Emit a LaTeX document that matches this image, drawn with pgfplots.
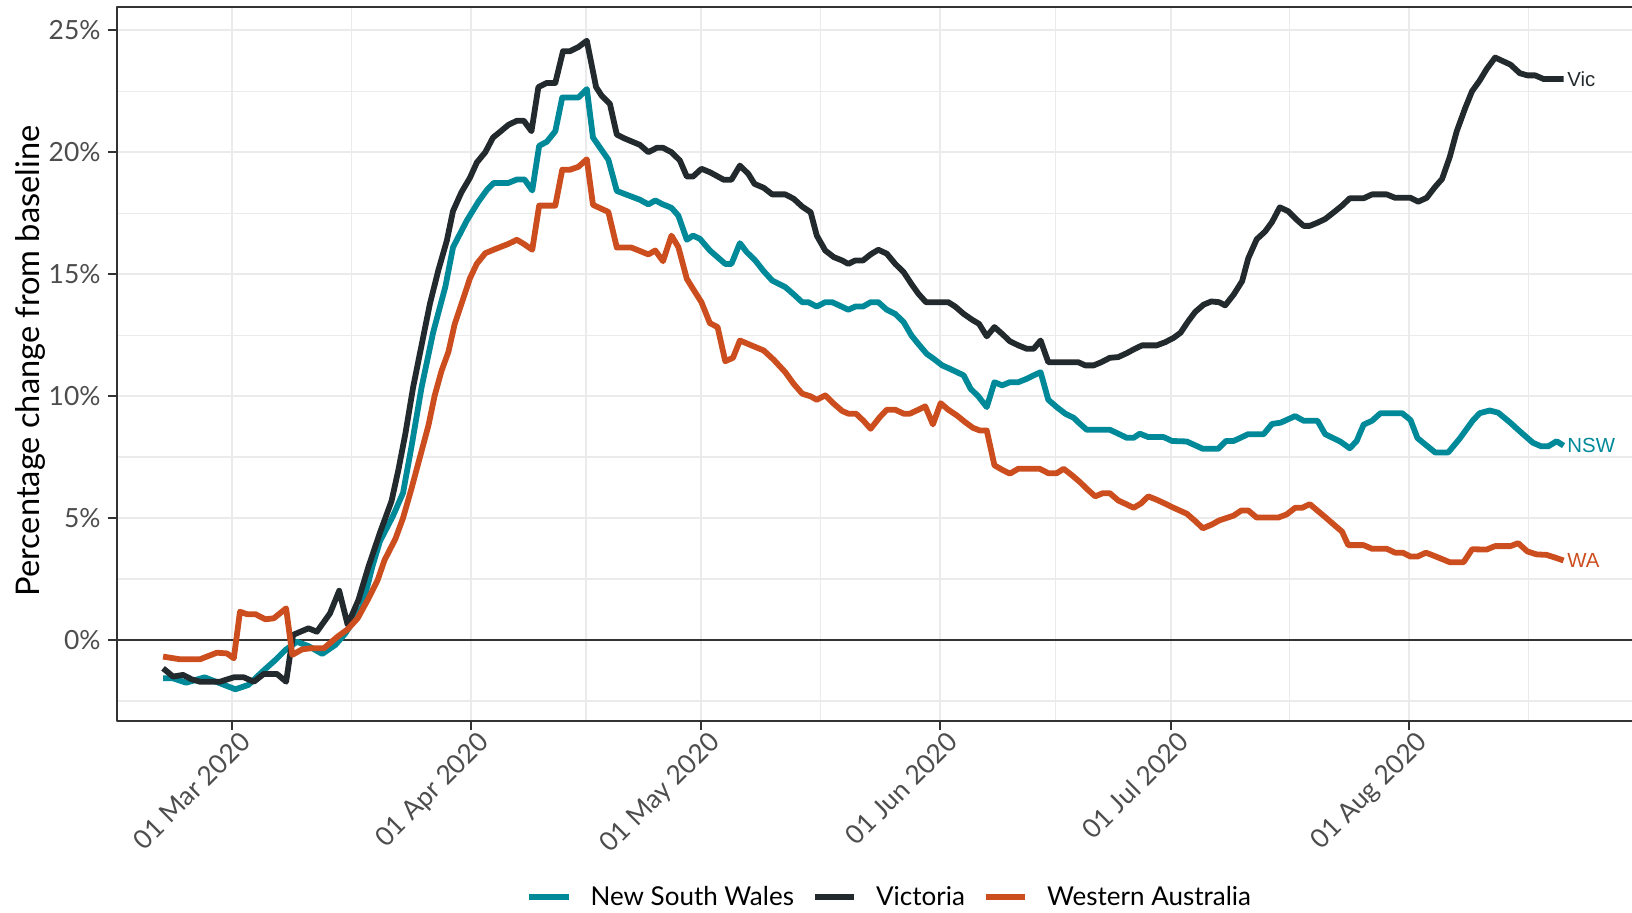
\documentclass[border=0pt]{standalone}
\usepackage{fontspec}
\setmainfont{Lato}
\newfontfamily\labfont{Liberation Sans}
\usepackage{pgfplots}
\pgfplotsset{compat=1.18}
\definecolor{nswcol}{RGB}{0,137,153}
\definecolor{viccol}{RGB}{35,42,46}
\definecolor{wacol}{RGB}{204,78,30}
\definecolor{gridcol}{RGB}{235,235,235}
\definecolor{axiscol}{RGB}{51,51,51}
\definecolor{tickcol}{RGB}{77,77,77}
\begin{document}
\begin{tikzpicture}
\useasboundingbox (0,0) rectangle (816pt,456.5pt);
\begin{axis}[
  at={(58.35pt,96pt)}, anchor=south west,
  scale only axis, width=757.65pt, height=357.2pt,
  xmin=-15.03, xmax=182.0, ymin=-3.32, ymax=25.97,
  clip=false,
  xtick={0,31,61,92,122,153},
  xticklabels={01 Mar 2020,01 Apr 2020,01 May 2020,01 Jun 2020,01 Jul 2020,01 Aug 2020},
  minor xtick={15.5,46,76.5,107,137.5,168.5},
  ytick={0,5,10,15,20,25},
  yticklabels={0\%,5\%,10\%,15\%,20\%,25\%},
  minor ytick={-2.5,2.5,7.5,12.5,17.5,22.5},
  grid=both,
  major grid style={gridcol, line width=1pt},
  minor grid style={gridcol, line width=0.6pt},
  tick pos=left, tick align=outside,
  major tick length=4.3pt, minor tick length=0pt,
  major tick style={axiscol, line width=1pt},
  axis line style={draw=none},
  ticklabel style={font=\fontsize{13.2}{15}\selectfont, text=tickcol},
  xticklabel style={rotate=45, anchor=north east, inner sep=0pt, xshift=2.2pt, yshift=-2.2pt},
  yticklabel style={anchor=east, inner sep=0pt, xshift=-3.6pt},
  ylabel={Percentage change from baseline},
  every axis y label/.style={at={(rel axis cs:0,0.504)}, anchor=center, rotate=90, yshift=43.2pt, font=\fontsize{16.3}{19}\selectfont},
  legend style={draw=none, fill=none, at={(0.5108,-0.2464)}, anchor=center,
    legend columns=3, font=\fontsize{13.0}{15}\selectfont,
    /tikz/every odd column/.append style={column sep=7.5pt},
    /tikz/every even column/.append style={column sep=7pt},
    nodes={inner sep=2pt}},
  legend image code/.code={\draw[#1, line width=3pt] (0pt,0pt) -- (19.6pt,0pt);},
  line join=round,
]
\addplot[axiscol, line width=1pt, forget plot] coordinates {(-15.03,0) (182,0)};

\addplot[nswcol, line width=2.9pt] coordinates {
(-9,-1.57) (-7.7,-1.57) (-6.0,-1.75) (-3.6,-1.53) (-1.8,-1.75) (0.4,-2.02) (2.1,-1.84)
(3.9,-1.30) (5.6,-0.82) (6.9,-0.41) (8.4,-0.07) (9.9,-0.25) (11.7,-0.57) (13.4,-0.20)
(14.7,0.27) (16.9,1.37) (18.2,3.0) (19.2,4.05) (20.9,5.09) (22.2,6.03) (23.3,7.93)
(24.6,10.34) (26.1,12.59) (27.7,14.48) (28.7,16.1) (30.5,17.2) (32.0,17.97) (33.1,18.45)
(34.0,18.74) (35.9,18.74) (37.0,18.88) (38.0,18.88) (39.0,18.43) (39.9,20.26) (40.9,20.43)
(42.0,20.86) (42.9,22.24) (45.0,22.24) (46.1,22.59) (46.9,20.60) (48.9,19.69) (50.0,18.41)
(53.0,18.05) (54.1,17.86) (55.0,18.02) (56.0,17.86) (57.1,17.72) (58.0,17.40) (59.1,16.41)
(59.9,16.58) (60.8,16.45) (62.1,15.97) (64.1,15.42) (64.9,15.42) (66.0,16.27) (66.9,15.90)
(68.0,15.56) (69.1,15.12) (70.2,14.74) (71.9,14.47) (73.0,14.17) (74.1,13.85) (74.9,13.85)
(76.0,13.67) (77.1,13.85) (78.0,13.85) (79.1,13.69) (80.1,13.54) (81.0,13.67) (82.0,13.67)
(83.0,13.85) (84.0,13.85) (85.1,13.54) (86.2,13.37) (87.3,13.03) (88.3,12.49) (89.3,12.1)
(90.3,11.73) (91.2,11.53) (92.3,11.26) (93.3,11.12) (95.1,10.85) (96.0,10.30) (97.0,9.99)
(98.1,9.55) (99.1,10.57) (100.1,10.44) (101.1,10.57) (102.2,10.57) (103.3,10.71) (104.2,10.85)
(105.1,10.98) (106.1,9.85) (107.2,9.55) (108.3,9.28) (109.4,9.11) (110.2,8.87) (111.1,8.62)
(114.1,8.62) (115.2,8.46) (116.3,8.29) (117.2,8.29) (118.0,8.46) (119.1,8.32) (121.1,8.32)
(122.2,8.16) (124.1,8.14) (126.2,7.84) (128.2,7.84) (129.2,8.16) (130.2,8.16) (132.1,8.44)
(134.1,8.44) (135.2,8.86) (136.3,8.91) (138.2,9.18) (139.3,8.99) (141.1,8.99) (142.1,8.44)
(144.1,8.13) (145.3,7.86) (146.2,8.16) (147.1,8.83) (148.2,8.99) (149.3,9.30) (152.1,9.30)
(153.2,9.02) (154.1,8.28) (155.3,7.97) (156.4,7.69) (158.1,7.69) (159.6,8.26) (161.3,9.0)
(162.2,9.30) (163.5,9.41) (164.6,9.32) (166.1,8.93) (167.4,8.56) (169.1,8.09) (170.2,7.94)
(171.1,7.94) (172.2,8.15) (173.1,7.97)
} node[pos=1, anchor=west, inner sep=0.5pt, font=\labfont\fontsize{10.2}{12}\selectfont, text=nswcol] {NSW};
\addlegendentry{New South Wales}

\addplot[viccol, line width=2.9pt] coordinates {
(-9,-1.16) (-7.7,-1.50) (-6.4,-1.43) (-5.3,-1.61) (-4.2,-1.71) (-1.6,-1.71) (0.2,-1.53)
(1.5,-1.53) (2.8,-1.71) (4.1,-1.39) (5.8,-1.39) (7.0,-1.71) (7.9,0.21) (9.9,0.48) (11.0,0.34)
(12.7,1.09) (13.9,2.02) (15.0,0.62) (16.4,1.64) (17.7,3.0) (19.2,4.40) (20.7,5.69) (21.6,6.98)
(22.5,8.45) (23.5,10.34) (24.6,12.07) (25.7,13.79) (26.8,15.17) (27.9,16.38) (28.7,17.59)
(29.8,18.36) (30.9,18.95) (31.8,19.58) (32.9,20.0) (33.9,20.6) (34.8,20.83) (35.9,21.12)
(37.0,21.29) (37.9,21.29) (38.9,20.86) (39.8,22.67) (40.9,22.84) (42.0,22.84) (43.0,24.14)
(43.9,24.14) (45.0,24.31) (46.1,24.57) (47.3,22.67) (48.0,22.33) (49.1,21.98) (50.0,20.72)
(51.1,20.55) (53.0,20.3) (54.1,20.0) (55.2,20.18) (56.0,20.18) (57.1,20.0) (58.2,19.66)
(59.1,19.0) (59.9,19.0) (61.0,19.32) (62.1,19.18) (63.9,18.87) (64.9,18.87) (66.0,19.45)
(67.1,19.11) (67.9,18.70) (69.1,18.54) (70.2,18.27) (71.9,18.27) (73.0,18.09) (74.1,17.77)
(75.2,17.54) (76.0,16.58) (77.1,15.97) (78.2,15.70) (79.3,15.56) (80.1,15.42) (81.0,15.56)
(82.0,15.56) (83.0,15.81) (84.0,16.0) (85.1,15.84) (86.2,15.42) (87.3,15.08) (88.3,14.60)
(89.2,14.2) (90.2,13.85) (93.1,13.85) (94.0,13.67) (95.1,13.37) (96.2,13.13) (97.1,12.96)
(98.1,12.45) (99.1,12.83) (100.1,12.55) (101.1,12.25) (102.2,12.08) (103.3,11.94) (104.2,11.94)
(105.1,12.28) (106.1,11.39) (110.0,11.39) (110.9,11.26) (112.0,11.26) (113.0,11.39)
(114.1,11.57) (115.2,11.60) (116.3,11.76) (117.3,11.93) (118.3,12.08) (120.2,12.08)
(121.3,12.21) (122.4,12.39) (123.3,12.6) (124.3,13.07) (125.2,13.45) (126.3,13.75)
(127.3,13.88) (128.3,13.85) (129.1,13.72) (130.2,14.16) (131.3,14.71) (132.1,15.65)
(133.2,16.43) (134.3,16.75) (135.2,17.14) (136.2,17.74) (137.3,17.58) (138.3,17.26)
(139.3,16.98) (140.1,16.98) (141.1,17.11) (142.1,17.26) (143.2,17.53) (144.3,17.81)
(145.3,18.11) (147.1,18.11) (148.2,18.27) (150.1,18.27) (151.2,18.13) (153.2,18.13)
(154.2,17.97) (155.3,18.13) (156.4,18.58) (157.3,18.9) (158.3,19.8) (159.2,20.85)
(160.3,21.8) (161.2,22.5) (162.2,22.94) (163.1,23.41) (164.2,23.88) (166.2,23.59)
(167.4,23.24) (168.4,23.15) (169.4,23.15) (170.5,23.0) (173.1,23.0)
} node[pos=1, anchor=west, inner sep=0.5pt, font=\labfont\fontsize{10.2}{12}\selectfont, text=viccol] {Vic};
\addlegendentry{Victoria}

\addplot[wacol, line width=2.9pt] coordinates {
(-9,-0.68) (-6.8,-0.79) (-4.2,-0.79) (-2.0,-0.52) (-0.7,-0.55) (0.2,-0.75) (1.0,1.16)
(1.9,1.06) (3.0,1.06) (4.3,0.85) (5.4,0.89) (7.0,1.30) (7.8,-0.61) (9.1,-0.38) (10.2,-0.34)
(11.9,-0.34) (13.7,0.14) (15.0,0.44) (16.3,0.89) (17.6,1.64) (18.9,2.46) (19.8,3.28)
(21.2,4.14) (22.2,5.0) (23.3,6.21) (24.4,7.5) (25.5,8.79) (26.3,10.0) (27.2,11.03)
(28.1,11.81) (28.9,12.93) (30.0,13.97) (30.9,14.83) (31.8,15.43) (32.9,15.86) (34.2,16.03)
(35.9,16.24) (37.0,16.41) (37.9,16.24) (39.0,16.0) (39.9,17.81) (42.0,17.81) (42.9,19.28)
(43.9,19.28) (45.0,19.40) (46.1,19.71) (46.9,17.84) (48.9,17.55) (50.0,16.09) (51.9,16.09)
(54.1,15.81) (55.0,15.97) (56.0,15.53) (57.1,16.58) (58.0,16.11) (59.1,14.81) (59.9,14.40)
(61.0,13.85) (62.1,12.99) (63.1,12.83) (64.1,11.43) (65.1,11.57) (66.0,12.28) (67.5,12.08)
(69.1,11.87) (70.4,11.49) (71.9,10.98) (73.0,10.50) (74.1,10.10) (75.2,9.99) (76.0,9.85)
(77.1,10.03) (78.2,9.69) (79.3,9.39) (80.1,9.28) (81.1,9.28) (82.1,8.98) (83.0,8.66)
(84.2,9.14) (85.1,9.44) (86.2,9.44) (87.3,9.28) (88.1,9.28) (89.2,9.44) (90.1,9.58)
(91.1,8.84) (92.1,9.71) (93.1,9.44) (94.2,9.21) (95.3,8.93) (96.3,8.70) (97.2,8.59)
(98.1,8.59) (99.1,7.16) (100.1,6.98) (101.1,6.82) (102.2,7.02) (105.0,7.02) (106.1,6.84)
(107.2,6.84) (108.1,7.02) (109.2,6.75) (110.2,6.48) (111.1,6.20) (112.2,5.89) (113.2,6.02)
(114.1,6.02) (115.2,5.72) (116.3,5.56) (117.2,5.42) (118.2,5.61) (119.1,5.89) (120.2,5.75)
(121.3,5.59) (122.4,5.42) (124.1,5.18) (125.2,4.88) (126.2,4.58) (127.4,4.74) (128.3,4.90)
(130.2,5.10) (131.2,5.31) (132.1,5.31) (133.2,5.02) (136.0,5.02) (137.1,5.15) (138.2,5.42)
(139.1,5.42) (140.1,5.57) (142.1,5.04) (144.3,4.44) (145.1,3.89) (147.1,3.89) (148.2,3.74)
(150.1,3.74) (151.2,3.58) (152.2,3.58) (153.2,3.42) (154.1,3.42) (155.2,3.58) (156.2,3.46)
(158.3,3.19) (160.1,3.19) (161.2,3.72) (163.1,3.71) (164.2,3.85) (166.2,3.85) (167.2,3.97)
(168.4,3.63) (169.6,3.51) (170.9,3.49) (172.0,3.38) (173.1,3.26)
} node[pos=1, anchor=west, inner sep=0.5pt, font=\labfont\fontsize{10.2}{12}\selectfont, text=wacol] {WA};
\addlegendentry{Western Australia}

\draw[axiscol, line width=1pt, line cap=rect] (rel axis cs:1.02,1) -- (rel axis cs:0,1) -- (rel axis cs:0,0) -- (rel axis cs:1.02,0);
\end{axis}
\end{tikzpicture}
\end{document}
